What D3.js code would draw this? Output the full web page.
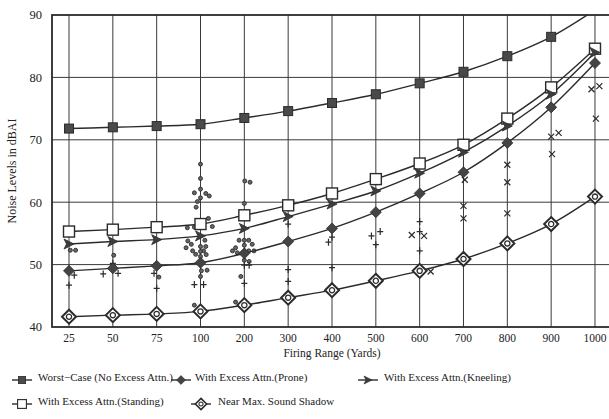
<head>
  <meta charset="UTF-8">
  <script src="https://d3js.org/d3.v7.min.js"></script>
</head>
<body style="margin:0;background:#fff">
  <svg id="chart"></svg>
</body>
<style>
  text { font-family: 'Liberation Serif','Times New Roman',serif; fill: #222; }
</style>
<script>
  // firing ranges (yards)
  const ranges = ['25','50','75','100','200','300','400','500','600','700','800','900','1000'];
  const yTicks = [40,50,60,70,80,90];

  // noise level curves in dBAI
  const worstCase = [71.8,72.0,72.2,72.5,73.5,74.6,75.9,77.3,79.05,80.9,83.4,86.5,90.8];
  const standing  = [55.3,55.6,56.0,56.5,57.9,59.5,61.4,63.7,66.2,69.2,73.4,78.4,84.6];
  const kneeling  = [53.3,53.7,54.0,54.6,55.8,57.7,59.7,61.8,64.65,68.0,72.2,77.3,84.0];
  const prone     = [49.0,49.4,49.8,50.3,51.8,53.7,55.8,58.4,61.4,64.8,69.5,75.2,82.3];
  const nearMax   = [41.65,41.9,42.1,42.5,43.5,44.7,45.9,47.4,49.0,50.9,53.4,56.5,60.9];

  // measured points: [range, jitter (fraction of a step), dBAI]
  const dotPts = [
    ['25',0.03,52.3],['25',0.15,52.3],['50',0.02,51.5],['75',0.05,48.0],
    ['100',0,66.1],['100',0,63.8],['100',0,62.1],['100',-0.14,61.5],['100',0.12,61.4],['100',0.2,61.0],
    ['100',0,60.7],['100',-0.07,60.1],['100',-0.1,59.2],['100',0.18,57.4],['100',0.27,56.1],
    ['100',-0.3,55.9],['100',-0.14,56.0],['100',-0.29,53.8],['100',-0.21,53.25],['100',-0.33,52.7],
    ['100',-0.18,52.2],['100',-0.11,51.65],['100',0.1,53.9],['100',0.12,52.9],['100',0.07,52.2],
    ['100',0.13,51.6],['100',0,52.9],['100',0,52.1],['100',0,51.3],['100',0.02,49.0],['100',0.15,49.1],
    ['100',0,48.1],['100',-0.14,43.5],
    ['200',0.01,63.4],['200',0.13,63.2],['200',0,59.8],['200',0,53.9],['200',0,53.1],['200',-0.12,53.9],
    ['200',0.1,53.9],['200',0.18,53.25],['200',-0.2,52.7],['200',-0.27,52.2],['200',-0.16,51.9],
    ['200',0.1,52.2],['200',0.22,52.2],['200',0,50.7],['200',0.11,50.5],['200',-0.08,48.1],['200',-0.2,44.0]
  ];
  const plusPts = [
    ['25',0.12,48.3],['25',0,46.7],['50',-0.22,48.5],['50',0.12,48.6],['50',0,50.2],
    ['75',-0.06,48.6],['75',0,46.2],['100',-0.14,46.8],['100',0.07,46.8],
    ['200',0,49.9],['200',0.11,49.9],['200',0,47.0],['300',0,56.5],['300',0,49.2],['300',0,47.3],
    ['400',-0.08,53.6],['400',0,54.4],['400',0,49.5],['500',-0.1,54.6],['500',0.1,55.3],['500',0,53.2],
    ['600',0,56.9],['600',0,55.3],['600',0,52.2]
  ];
  const crossPts = [
    ['600',-0.18,54.75],['600',0.1,54.6],['600',0.25,48.9],
    ['700',0.03,63.6],['700',0,59.4],['700',0,57.4],
    ['800',0,66.0],['800',0,63.2],['800',0,58.2],
    ['900',0,70.5],['900',0.17,71.1],['900',0.02,67.7],
    ['1000',-0.08,78.1],['1000',0.1,78.6],['1000',0.02,73.4]
  ];

  const series = [
    {name:'Worst\u2212Case (No Excess Attn.)', values:worstCase, mark:'fsquare'},
    {name:'With Excess Attn.(Standing)', values:standing, mark:'osquare'},
    {name:'With Excess Attn.(Kneeling)', values:kneeling, mark:'tri'},
    {name:'With Excess Attn.(Prone)', values:prone, mark:'fdiamond'},
    {name:'Near Max. Sound Shadow', values:nearMax, mark:'odiamond'}
  ];

  const W = 609, H = 419;
  const plot = {left: 52, right: 612, top: 15, bottom: 327};
  const ink = '#2b2b2b';

  const svg = d3.select('#chart').attr('width', W).attr('height', H);

  const x = d3.scalePoint().domain(ranges).range([plot.left, plot.right]).padding(0.388);
  const y = d3.scaleLinear().domain([40, 90]).range([plot.bottom, plot.top]);
  const px = (c, dx) => x(c) + dx * x.step();

  svg.append('defs').append('clipPath').attr('id', 'clip')
    .append('rect').attr('x', plot.left).attr('y', plot.top)
    .attr('width', plot.right - plot.left).attr('height', plot.bottom - plot.top);

  // grid
  const grid = svg.append('g').attr('stroke', '#3a3a3a').attr('stroke-width', 1);
  grid.selectAll('line.h').data(yTicks.slice(1, -1)).join('line')
    .attr('x1', plot.left).attr('x2', plot.right)
    .attr('y1', d => y(d)).attr('y2', d => y(d));
  grid.selectAll('line.v').data(ranges).join('line')
    .attr('x1', d => x(d)).attr('x2', d => x(d))
    .attr('y1', plot.top).attr('y2', plot.bottom);

  // frame
  svg.append('rect')
    .attr('x', plot.left).attr('y', plot.top)
    .attr('width', plot.right - plot.left).attr('height', plot.bottom - plot.top)
    .attr('fill', 'none').attr('stroke', ink).attr('stroke-width', 1.8);

  // axis labels
  svg.append('g').selectAll('text').data(yTicks).join('text')
    .attr('x', 42).attr('y', d => y(d)).attr('dy', '0.35em')
    .attr('text-anchor', 'end').attr('font-size', 12.5).text(d => d);
  svg.append('g').selectAll('text').data(ranges).join('text')
    .attr('x', d => x(d)).attr('y', 342)
    .attr('text-anchor', 'middle').attr('font-size', 11.5).text(d => d);
  svg.append('text').attr('x', (plot.left + plot.right) / 2).attr('y', 357)
    .attr('text-anchor', 'middle').attr('font-size', 11.5).text('Firing Range (Yards)');
  svg.append('text').attr('transform', `translate(16,${(plot.top + plot.bottom) / 2}) rotate(-90)`)
    .attr('text-anchor', 'middle').attr('font-size', 12).text('Noise Levels in dBAI');

  // marker drawing
  function marker(g, type){
    if(type === 'fsquare'){
      g.append('rect').attr('x', -4.5).attr('y', -4.5).attr('width', 9).attr('height', 9)
        .attr('fill', '#4a4a4a').attr('stroke', ink).attr('stroke-width', 1);
    }else if(type === 'osquare'){
      g.append('rect').attr('x', -5.5).attr('y', -5.5).attr('width', 11).attr('height', 11)
        .attr('fill', '#fff').attr('stroke', ink).attr('stroke-width', 1.4);
    }else if(type === 'tri'){
      g.append('path').attr('d', 'M-5,-5L5,0L-5,5L-2.5,0Z').attr('fill', '#3d3d3d').attr('stroke', ink).attr('stroke-width', 0.8);
    }else if(type === 'fdiamond'){
      g.append('path').attr('d', 'M0,-5.5L5.5,0L0,5.5L-5.5,0Z').attr('fill', '#444').attr('stroke', ink).attr('stroke-width', 0.8);
    }else if(type === 'odiamond'){
      g.append('path').attr('d', 'M0,-7L7,0L0,7L-7,0Z').attr('fill', '#fff').attr('stroke', ink).attr('stroke-width', 2);
      g.append('circle').attr('r', 2.6).attr('fill', '#fff').attr('stroke', ink).attr('stroke-width', 1.3);
    }
  }

  const data = svg.append('g').attr('clip-path', 'url(#clip)');

  // scatter
  data.append('g').selectAll('circle').data(dotPts).join('circle')
    .attr('cx', d => px(d[0], d[1])).attr('cy', d => y(d[2])).attr('r', 2)
    .attr('fill', '#666').attr('stroke', ink).attr('stroke-width', 0.9);
  data.append('g').selectAll('path').data(plusPts).join('path')
    .attr('transform', d => `translate(${px(d[0], d[1])},${y(d[2])})`)
    .attr('d', 'M-3,0H3M0,-3.5V3.5').attr('stroke', ink).attr('stroke-width', 1.2);
  data.append('g').selectAll('path').data(crossPts).join('path')
    .attr('transform', d => `translate(${px(d[0], d[1])},${y(d[2])})`)
    .attr('d', 'M-3,-3L3,3M-3,3L3,-3').attr('stroke', ink).attr('stroke-width', 1.2);

  // lines
  const line = d3.line().x((d, i) => x(ranges[i])).y(d => y(d)).curve(d3.curveMonotoneX);
  data.append('g').selectAll('path').data(series).join('path')
    .attr('d', d => line(d.values)).attr('fill', 'none')
    .attr('stroke', ink).attr('stroke-width', 1.4);

  series.forEach(s => {
    data.append('g').selectAll('g').data(s.values).join('g')
      .attr('transform', (d, i) => `translate(${x(ranges[i])},${y(d)})`)
      .each(function(){ marker(d3.select(this), s.mark); });
  });

  // legend
  const legend = [
    {s: series[0], mx: 22, tx: 38, ty: 377},
    {s: series[3], mx: 181, tx: 195, ty: 377},
    {s: series[2], mx: 368, tx: 384, ty: 377},
    {s: series[1], mx: 22, tx: 38, ty: 401},
    {s: series[4], mx: 201, tx: 218, ty: 401}
  ];
  legend.forEach(l => {
    const g = svg.append('g').attr('transform', `translate(${l.mx},${l.ty + 3})`);
    g.append('line').attr('x1', -10).attr('x2', 10).attr('stroke', ink).attr('stroke-width', 1.4);
    const m = g.append('g').attr('transform', 'scale(0.8)');
    marker(m, l.s.mark);
    svg.append('text').attr('x', l.tx).attr('y', l.ty).attr('dy', '0.35em')
      .attr('font-size', 11).text(l.s.name);
  });
</script>
